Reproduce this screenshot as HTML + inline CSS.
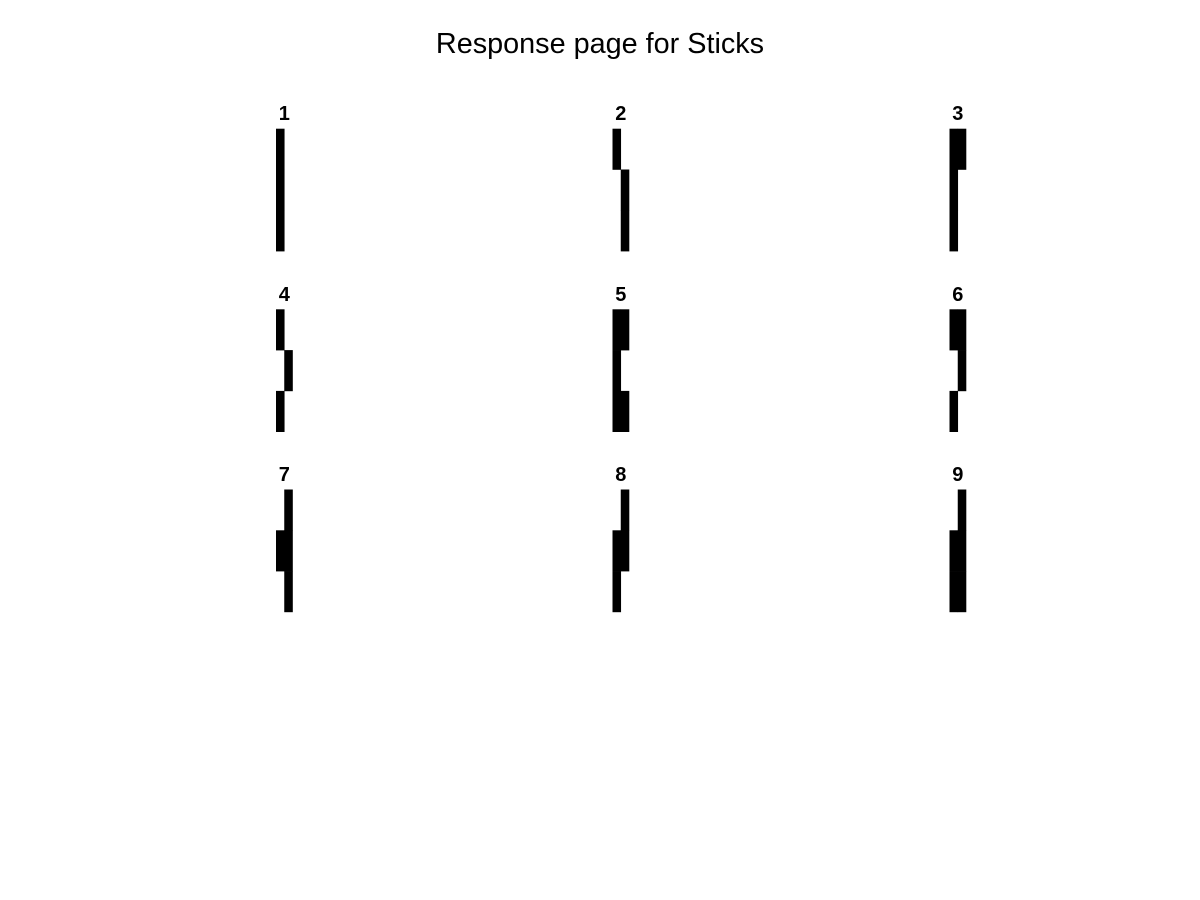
<!DOCTYPE html>
<html><head><meta charset="utf-8"><style>
html,body{margin:0;padding:0;background:#fff;}
svg{display:block;font-family:"Liberation Sans",Arial,sans-serif;}
</style></head><body>
<svg id="c" width="1200" height="900">
<rect width="1200" height="900" fill="#fff"/>
<text x="600" y="53" text-anchor="middle" font-size="28.8" fill="#000">Response page for Sticks</text>
<g id="panels"></g>
</svg>
<script>
const labels = ["1","2","3","4","5","6","7","8","9"];
const patterns = [
 [[1,0],[1,0],[1,0]],
 [[1,0],[0,1],[0,1]],
 [[1,1],[1,0],[1,0]],
 [[1,0],[0,1],[1,0]],
 [[1,1],[1,0],[1,1]],
 [[1,1],[0,1],[1,0]],
 [[0,1],[1,1],[0,1]],
 [[0,1],[1,1],[1,0]],
 [[0,1],[1,1],[1,1]]
];
const NS="http://www.w3.org/2000/svg";
const g=document.getElementById('panels');
const colX=[276,612.5,949.5], rowY=[128.7,309.3,489.5];
const cw=8.25, ch=40.8;
patterns.forEach((p,i)=>{
  const x0=colX[i%3], y0=rowY[Math.floor(i/3)];
  const pg=document.createElementNS(NS,'g');
  
  
  const t=document.createElementNS(NS,'text');
  t.setAttribute('x',x0+cw);t.setAttribute('y',y0-8.5);
  t.setAttribute('text-anchor','middle');t.setAttribute('font-size','20');t.setAttribute('font-weight','bold');
  t.textContent=labels[i];
  
  
  pg.appendChild(t);
  p.forEach((row,r)=>row.forEach((v,c)=>{
    if(!v)return;
    const rc=document.createElementNS(NS,'rect');
    rc.setAttribute('x',x0+c*cw);rc.setAttribute('y',y0+r*ch);
    rc.setAttribute('width',cw+0.3);rc.setAttribute('height',ch+0.3);rc.setAttribute('fill','#000');
    
    
    pg.appendChild(rc);
  }));
  g.appendChild(pg);
});
</script>
</body></html>
